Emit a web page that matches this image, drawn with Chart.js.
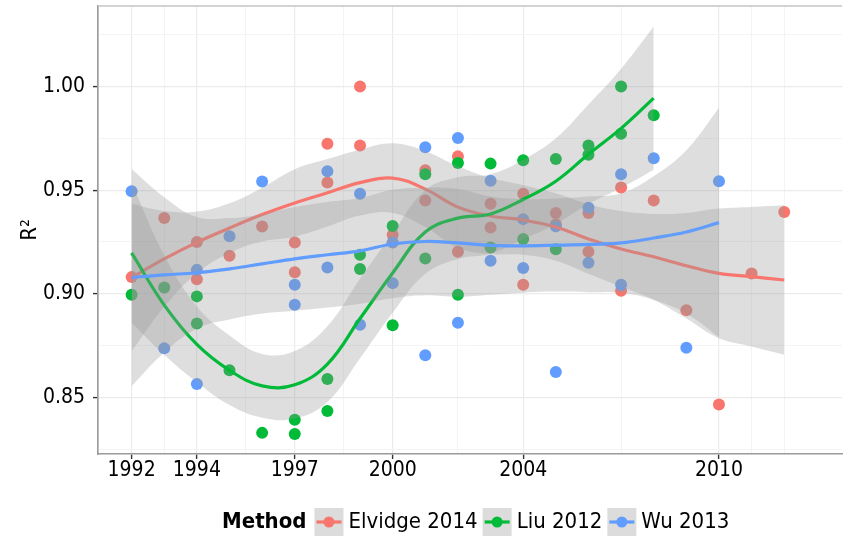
<!DOCTYPE html>
<html>
<head>
<meta charset="utf-8">
<script src="https://cdn.jsdelivr.net/npm/chart.js@4.4.0/dist/chart.umd.min.js"></script>
<style>
  html, body { margin: 0; padding: 0; background: #fff; }
</style>
</head>
<body>
<canvas id="chart" width="848" height="542"></canvas>
<script>
  // R² of each method by year
  const elvidgeYears = [1992, 1993, 1994, 1994, 1995, 1996, 1997, 1997, 1998, 1998, 1999, 1999, 2000, 2001, 2001, 2002, 2002, 2003, 2003, 2004, 2004, 2005, 2005, 2006, 2006, 2007, 2007, 2008, 2009, 2010, 2011, 2012];
  const elvidgeR2 = [0.908, 0.9365, 0.925, 0.907, 0.9183, 0.9324, 0.9247, 0.9103, 0.9724, 0.9537, 1.000, 0.9716, 0.9284, 0.9596, 0.945, 0.9663, 0.9203, 0.9434, 0.9319, 0.9482, 0.9043, 0.939, 0.9335, 0.939, 0.9202, 0.9513, 0.9014, 0.945, 0.892, 0.8465, 0.9098, 0.9394];

  const liuYears = [1992, 1993, 1994, 1994, 1995, 1996, 1997, 1997, 1998, 1998, 1999, 1999, 2000, 2000, 2001, 2001, 2002, 2002, 2003, 2003, 2004, 2004, 2005, 2005, 2006, 2006, 2007, 2007, 2008];
  const liuR2 = [0.8995, 0.903, 0.8987, 0.8856, 0.863, 0.8328, 0.8391, 0.8322, 0.8588, 0.8434, 0.9188, 0.9119, 0.9327, 0.8848, 0.9577, 0.917, 0.9631, 0.8995, 0.9628, 0.9223, 0.9644, 0.9264, 0.965, 0.9215, 0.9716, 0.9671, 1.000, 0.9772, 0.9862];

  const wuYears = [1992, 1993, 1994, 1994, 1995, 1996, 1997, 1997, 1998, 1998, 1999, 1999, 2000, 2000, 2001, 2001, 2002, 2002, 2003, 2003, 2004, 2004, 2005, 2005, 2006, 2006, 2007, 2007, 2008, 2009, 2010];
  const wuR2 = [0.9495, 0.8736, 0.9115, 0.8564, 0.9277, 0.9542, 0.9043, 0.8947, 0.9591, 0.9126, 0.9482, 0.885, 0.9247, 0.9051, 0.9707, 0.8703, 0.9752, 0.886, 0.9545, 0.9159, 0.936, 0.9124, 0.9325, 0.8622, 0.9415, 0.9149, 0.9577, 0.9043, 0.9654, 0.8739, 0.9543];

  // loess fits with 95% band, one value per year
  const elvidgeFitYears = [1992, 1993, 1994, 1995, 1996, 1997, 1998, 1999, 2000, 2001, 2002, 2003, 2004, 2005, 2006, 2007, 2008, 2009, 2010, 2011, 2012];
  const elvidgeFit = [0.9078, 0.9168, 0.9248, 0.9317, 0.9382, 0.9438, 0.9487, 0.9536, 0.9558, 0.9505, 0.9418, 0.9375, 0.9356, 0.9322, 0.9264, 0.9216, 0.9178, 0.9135, 0.9098, 0.9082, 0.9066];
  const elvidgeLo = [0.8722, 0.8937, 0.9099, 0.9197, 0.9252, 0.9275, 0.9324, 0.9377, 0.9390, 0.9322, 0.9221, 0.9192, 0.9188, 0.9159, 0.9096, 0.9033, 0.8971, 0.8880, 0.8785, 0.8745, 0.8705];
  const elvidgeHi = [0.9434, 0.9399, 0.9397, 0.9437, 0.9512, 0.9601, 0.9650, 0.9695, 0.9726, 0.9688, 0.9615, 0.9558, 0.9524, 0.9485, 0.9432, 0.9399, 0.9385, 0.9390, 0.9411, 0.9419, 0.9427];

  const liuFitYears = [1992, 1993, 1994, 1995, 1996, 1997, 1998, 1999, 2000, 2001, 2002, 2003, 2004, 2005, 2006, 2007, 2008];
  const liuFit = [0.9197, 0.8945, 0.8755, 0.8630, 0.8555, 0.8560, 0.8660, 0.8880, 0.9100, 0.9298, 0.9365, 0.9385, 0.9455, 0.9543, 0.9673, 0.9798, 0.9944];
  const liuLo = [0.8860, 0.8705, 0.8572, 0.8462, 0.8401, 0.8397, 0.8477, 0.8688, 0.8908, 0.9096, 0.9168, 0.9193, 0.9263, 0.9336, 0.9433, 0.9510, 0.9598];
  const liuHi = [0.9534, 0.9185, 0.8938, 0.8798, 0.8709, 0.8723, 0.8843, 0.9072, 0.9292, 0.9500, 0.9562, 0.9577, 0.9647, 0.9750, 0.9913, 1.0086, 1.0290];

  const wuFitYears = [1992, 1993, 1994, 1995, 1996, 1997, 1998, 1999, 2000, 2001, 2002, 2003, 2004, 2005, 2006, 2007, 2008, 2009, 2010];
  const wuFit = [0.9078, 0.9091, 0.9101, 0.9120, 0.9144, 0.9168, 0.9188, 0.9207, 0.9240, 0.9252, 0.9245, 0.9233, 0.9231, 0.9234, 0.9238, 0.9245, 0.9269, 0.9298, 0.9343];
  const wuLo = [0.8554, 0.8716, 0.8832, 0.8875, 0.8904, 0.8918, 0.8933, 0.8952, 0.8978, 0.8992, 0.8985, 0.8995, 0.9005, 0.9010, 0.9007, 0.9005, 0.8971, 0.8904, 0.8790];
  const wuHi = [0.9602, 0.9466, 0.9370, 0.9365, 0.9384, 0.9418, 0.9443, 0.9462, 0.9502, 0.9512, 0.9505, 0.9469, 0.9457, 0.9460, 0.9469, 0.9485, 0.9567, 0.9692, 0.9896];

  // axis breaks
  const xMajor = [1992, 1994, 1997, 2000, 2004, 2010];
  const xMinor = [1991, 1993, 1995.5, 1998.5, 2002, 2007, 2011, 2012];
  const yMajor = [0.85, 0.90, 0.95, 1.00];
  const yMinor = [0.825, 0.875, 0.925, 0.975, 1.025];

  const FONT = '"Liberation Sans Narrow", "Arial Narrow", "DejaVu Sans Condensed", sans-serif';
  const BAND = "rgba(153,153,153,0.32)";

  const methods = [
    { name: "Elvidge 2014", color: "#F8766D", years: elvidgeYears, r2: elvidgeR2, fitYears: elvidgeFitYears, fit: elvidgeFit, lo: elvidgeLo, hi: elvidgeHi },
    { name: "Liu 2012", color: "#00BA38", years: liuYears, r2: liuR2, fitYears: liuFitYears, fit: liuFit, lo: liuLo, hi: liuHi },
    { name: "Wu 2013", color: "#619CFF", years: wuYears, r2: wuR2, fitYears: wuFitYears, fit: wuFit, lo: wuLo, hi: wuHi },
  ];

  const pts = (xs, ys) => xs.map((x, i) => ({ x, y: ys[i] }));

  // higher order is painted first: points at the bottom, then each band and its line
  const datasets = [];
  methods.forEach((m, k) => {
    datasets.push({
      label: m.name, data: pts(m.years, m.r2), showLine: false,
      pointRadius: 6, pointBorderWidth: 0, pointBackgroundColor: m.color,
      order: 100 - k,
    });
  });
  methods.forEach((m, k) => {
    const base = 30 - k * 10;
    const hiIdx = datasets.length;
    datasets.push({
      data: pts(m.fitYears, m.hi), fill: hiIdx + 1, backgroundColor: BAND,
      borderWidth: 0, borderColor: "transparent", pointRadius: 0, tension: 0.4, order: base,
    });
    datasets.push({
      data: pts(m.fitYears, m.lo), fill: false,
      borderWidth: 0, borderColor: "transparent", pointRadius: 0, tension: 0.4, order: base - 1,
    });
    datasets.push({
      data: pts(m.fitYears, m.fit), fill: false, borderColor: m.color, borderWidth: 3.2,
      pointRadius: 0, tension: 0.4, order: base - 2,
    });
  });

  const isMajorX = (v) => xMajor.includes(v);
  const isMajorY = (v) => yMajor.some(t => Math.abs(t - v) < 1e-9);

  const panel = {
    id: "panel",
    afterDraw(chart) {
      const { ctx, chartArea: a } = chart;
      ctx.save();
      ctx.strokeStyle = "#C4C4C4";
      ctx.lineWidth = 1.6;
      ctx.beginPath();
      ctx.moveTo(a.left, a.top);
      ctx.lineTo(a.right, a.top);
      ctx.stroke();

      // legend: title, then a key and label for each method
      const y = 522;
      ctx.textBaseline = "middle";
      ctx.fillStyle = "#000";
      ctx.font = "bold 22px " + FONT;
      let x = 222;
      ctx.fillText("Method", x, y);
      x += ctx.measureText("Method").width + 8;
      methods.forEach(m => {
        ctx.fillStyle = "#DCDCDC";
        ctx.fillRect(x, y - 14, 29, 28);
        ctx.strokeStyle = m.color;
        ctx.lineWidth = 3.2;
        ctx.beginPath();
        ctx.moveTo(x + 2, y);
        ctx.lineTo(x + 27, y);
        ctx.stroke();
        ctx.fillStyle = m.color;
        ctx.beginPath();
        ctx.arc(x + 14.5, y, 5.5, 0, Math.PI * 2);
        ctx.fill();
        x += 29 + 5;
        ctx.font = "22px " + FONT;
        ctx.fillStyle = "#000";
        ctx.fillText(m.name, x, y);
        x += ctx.measureText(m.name).width + 5;
      });
      ctx.restore();
    },
  };

  new Chart(document.getElementById("chart"), {
    type: "line",
    data: { datasets },
    plugins: [panel],
    options: {
      responsive: false,
      animation: false,
      events: [],
      layout: { padding: { top: 4, right: 0, left: 0, bottom: 0 } },
      plugins: { legend: { display: false }, tooltip: { enabled: false } },
      scales: {
        x: {
          type: "linear", min: 1990.97, max: 2013.77,
          afterBuildTicks: (s) => { s.ticks = xMajor.concat(xMinor).sort((a, b) => a - b).map(v => ({ value: v })); },
          afterFit: (s) => { s.height = 88; s.paddingLeft = 0; s.paddingRight = 0; },
          grid: {
            color: (c) => isMajorX(c.tick.value) ? "#EBEBEB" : "#F4F4F4",
            lineWidth: (c) => isMajorX(c.tick.value) ? 1.2 : 1,
            tickColor: (c) => isMajorX(c.tick.value) ? "#333" : "rgba(0,0,0,0)",
            tickLength: 5, tickWidth: 1.4,
          },
          border: { color: "#9A9A9A", width: 1.6 },
          ticks: {
            autoSkip: false, maxRotation: 0, padding: 1, color: "#000",
            font: { family: FONT, size: 21, lineHeight: 1 },
            callback: (v) => isMajorX(v) ? String(v) : "",
          },
        },
        y: {
          type: "linear", min: 0.8226, max: 1.0389,
          afterBuildTicks: (s) => { s.ticks = yMajor.concat(yMinor).sort((a, b) => a - b).map(v => ({ value: v })); },
          afterFit: (s) => { s.width = 98; s.paddingTop = 0; s.paddingBottom = 0; },
          grid: {
            color: (c) => isMajorY(c.tick.value) ? "#EBEBEB" : "#F4F4F4",
            lineWidth: (c) => isMajorY(c.tick.value) ? 1.2 : 1,
            tickColor: (c) => isMajorY(c.tick.value) ? "#333" : "rgba(0,0,0,0)",
            tickLength: 5, tickWidth: 1.4,
          },
          border: { color: "#9A9A9A", width: 1.6 },
          ticks: {
            padding: 8, color: "#000",
            font: { family: FONT, size: 21, lineHeight: 1 },
            callback: (v) => isMajorY(v) ? v.toFixed(2) : "",
          },
          title: {
            display: true, text: "R²", color: "#000",
            font: { family: FONT, size: 22, lineHeight: 1.2 },
            padding: { top: 17, bottom: 0 },
          },
        },
      },
    },
  });
</script>
</body>
</html>
